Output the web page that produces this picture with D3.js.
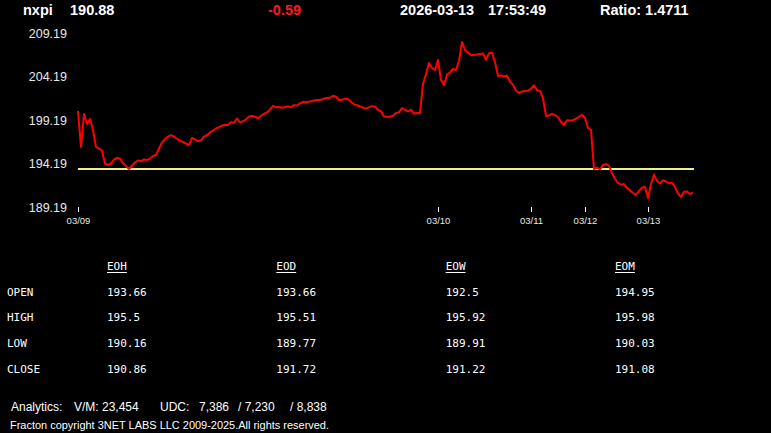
<!DOCTYPE html>
<html>
<head>
<meta charset="utf-8">
<script src="https://cdn.jsdelivr.net/npm/d3@7"></script>
<style>
  html, body { margin: 0; padding: 0; background: #000; overflow: hidden; }
  svg { display: block; }
</style>
</head>
<body>
<svg id="chart"></svg>
<script>
// header
const symbol = "nxpi";
const lastPrice = 190.88;
const change = -0.59;
const quoteDate = "2026-03-13";
const quoteTime = "17:53:49";
const ratio = 1.4711;

// intraday prices, one per sample, 03/09 -> 03/13
const prices = [
  200.22, 196.09, 199.88, 198.73, 199.30, 198.04, 196.09, 195.91, 195.68, 194.19,
  194.02, 194.19, 194.65, 194.82, 194.76, 194.21, 193.90, 193.56, 193.96, 194.30,
  194.53, 194.47, 194.65, 194.59, 194.79, 195.05, 195.16, 195.91, 196.60, 197.00,
  197.29, 197.46, 197.27, 197.03, 196.83, 196.66, 196.49, 196.31, 197.12, 196.95,
  196.77, 196.83, 197.27, 197.44, 197.77, 197.98, 198.21, 198.36, 198.53, 198.65,
  198.61, 198.93, 198.87, 199.36, 198.92, 199.07, 199.24, 199.59, 199.65, 199.57,
  199.39, 199.68, 199.90, 200.07, 200.37, 200.80, 200.65, 200.68, 200.60, 200.68,
  200.74, 200.66, 200.90, 200.85, 201.11, 201.28, 201.23, 201.29, 201.37, 201.45,
  201.49, 201.51, 201.65, 201.72, 201.75, 201.97, 201.87, 201.49, 201.51, 201.64,
  201.60, 201.28, 200.99, 200.88, 200.74, 200.61, 200.49, 200.64, 200.78, 200.74,
  200.34, 200.20, 199.57, 199.55, 199.57, 199.68, 199.99, 200.07, 200.57, 200.34,
  200.17, 200.34, 199.91, 200.02, 199.96, 203.33, 204.48, 205.74, 205.17, 204.94,
  206.09, 203.79, 203.21, 204.40, 204.65, 205.05, 204.94, 205.97, 208.16, 207.24,
  206.91, 206.66, 206.66, 206.71, 206.78, 206.85, 206.09, 206.87, 206.91, 205.86,
  204.25, 204.32, 204.19, 204.31, 203.59, 203.25, 202.59, 202.29, 202.45, 202.52,
  202.56, 202.78, 203.17, 202.60, 202.52, 201.72, 199.65, 199.71, 199.88, 199.77,
  199.50, 198.96, 198.61, 199.17, 199.12, 199.16, 199.34, 199.56, 199.79, 199.42,
  198.27, 198.04, 193.56, 193.72, 193.50, 194.03, 194.13, 193.92, 193.10, 192.41,
  191.95, 191.76, 191.83, 191.37, 191.10, 190.80, 190.57, 191.05, 191.42, 191.52,
  190.22, 191.83, 192.92, 192.18, 191.89, 192.26, 192.12, 191.92, 191.97, 191.49,
  190.74, 190.34, 190.95, 190.97, 190.68, 190.85
];
const refLevel = 193.56;

// x axis: sample index where each day starts
const dayStart = [0, 120, 151, 169, 190];
const dayLabels = ["03/09", "03/10", "03/11", "03/12", "03/13"];
const yTicks = [189.19, 194.19, 199.19, 204.19, 209.19];

// summary table
const rowLabels = ["OPEN", "HIGH", "LOW", "CLOSE"];
const colLabels = ["EOH", "EOD", "EOW", "EOM"];
const eoh = [193.66, 195.5, 190.16, 190.86];
const eod = [193.66, 195.51, 189.77, 191.72];
const eow = [192.5, 195.92, 189.91, 191.22];
const eom = [194.95, 195.98, 190.03, 191.08];

// footer
const vm = 23454;
const udc = [7386, 7230, 8838];
const copyright = "Fracton copyright 3NET LABS LLC 2009-2025.All rights reserved.";

const width = 771, height = 433;
const svg = d3.select("#chart").attr("width", width).attr("height", height);
svg.append("rect").attr("width", width).attr("height", height).attr("fill", "#000");

// header line
const head = svg.append("g")
    .attr("font-family", "Liberation Sans, Arial, sans-serif")
    .attr("font-weight", "bold")
    .attr("font-size", 14.5)
    .attr("fill", "#fff");
head.append("text").attr("x", 23).attr("y", 15).text(symbol);
head.append("text").attr("x", 70).attr("y", 15).text(lastPrice.toFixed(2));
head.append("text").attr("x", 268).attr("y", 15).attr("fill", "#ff1a1a").text(change.toFixed(2));
head.append("text").attr("x", 400).attr("y", 15).text(quoteDate);
head.append("text").attr("x", 488).attr("y", 15).text(quoteTime);
head.append("text").attr("x", 600).attr("y", 15).text("Ratio: " + ratio.toFixed(4));

// scales
const x = d3.scaleLinear().domain([0, prices.length - 1]).range([78, 693]);
const y = d3.scaleLinear().domain([189.19, 209.19]).range([207, 33]);

// y labels
const yAxis = svg.append("g")
    .attr("transform", "translate(67,0)")
    .call(d3.axisLeft(y).tickValues(yTicks).tickSize(0).tickPadding(0).tickFormat(d3.format(".2f")));
yAxis.select(".domain").remove();
yAxis.selectAll("text")
    .attr("fill", "#e8e8e8")
    .attr("font-family", "Liberation Sans, Arial, sans-serif")
    .attr("font-size", 12.5);

// x axis with day marks
const xAxis = svg.append("g")
    .attr("transform", "translate(0,207)")
    .call(d3.axisBottom(x).tickValues(dayStart).tickSize(5).tickPadding(5)
        .tickFormat((d, i) => dayLabels[i]));
xAxis.select(".domain").remove();
xAxis.selectAll("line").attr("stroke", "#fff");
xAxis.selectAll("text")
    .attr("fill", "#e8e8e8")
    .attr("font-family", "Liberation Sans, Arial, sans-serif")
    .attr("font-size", 9.5);

// reference level
svg.append("line")
    .attr("x1", x(0)).attr("x2", x(prices.length - 1) + 1)
    .attr("y1", y(refLevel)).attr("y2", y(refLevel))
    .attr("stroke", "#eef08c")
    .attr("stroke-width", 2);

// price line
const line = d3.line()
    .x((d, i) => x(i))
    .y(d => y(d));
svg.append("path")
    .datum(prices)
    .attr("d", line)
    .attr("fill", "none")
    .attr("stroke", "#ff0000")
    .attr("stroke-width", 2)
    .attr("stroke-linejoin", "round");

// summary table
const cols = [eoh, eod, eow, eom];
const colX = d3.scaleLinear().domain([0, 3]).range([107, 615]);
const rowY = d3.scaleLinear().domain([0, 3]).range([295.5, 373]);
const table = svg.append("g")
    .attr("font-family", "DejaVu Sans Mono, monospace")
    .attr("font-size", 11)
    .attr("fill", "#fff");

table.selectAll(".colhead")
    .data(colLabels)
    .enter()
    .append("text")
    .attr("class", "colhead")
    .attr("x", (d, i) => colX(i))
    .attr("y", 270)
    .text(d => d)
    .each(function(d, i) {
        const w = this.getComputedTextLength();
        table.append("line")
            .attr("x1", colX(i)).attr("x2", colX(i) + w)
            .attr("y1", 272.5).attr("y2", 272.5)
            .attr("stroke", "#fff").attr("stroke-width", 1);
    });

table.selectAll(".rowhead")
    .data(rowLabels)
    .enter()
    .append("text")
    .attr("class", "rowhead")
    .attr("x", 7)
    .attr("y", (d, i) => rowY(i))
    .text(d => d);

cols.forEach((col, c) => {
    table.selectAll(".cell" + c)
        .data(col)
        .enter()
        .append("text")
        .attr("x", colX(c))
        .attr("y", (d, i) => rowY(i))
        .text(d => String(d));
});

// footer
const fmt = d3.format(",");
const foot = svg.append("g")
    .attr("font-family", "Liberation Sans, Arial, sans-serif")
    .attr("fill", "#fff");
const footParts = [
    { x: 11, t: "Analytics:" },
    { x: 74, t: "V/M: " + fmt(vm) },
    { x: 160, t: "UDC:" },
    { x: 199, t: fmt(udc[0]) },
    { x: 238, t: "/ " + fmt(udc[1]) },
    { x: 290, t: "/ " + fmt(udc[2]) }
];
foot.selectAll(".fp")
    .data(footParts)
    .enter()
    .append("text")
    .attr("x", d => d.x)
    .attr("y", 411)
    .attr("font-size", 12)
    .text(d => d.t);
foot.append("text")
    .attr("x", 10)
    .attr("y", 429)
    .attr("font-size", 10)
    .attr("textLength", 319)
    .attr("lengthAdjust", "spacingAndGlyphs")
    .text(copyright);
</script>
</body>
</html>
